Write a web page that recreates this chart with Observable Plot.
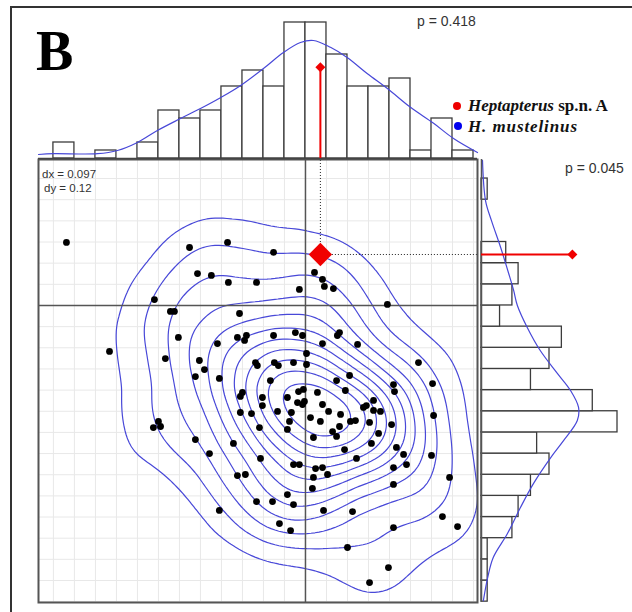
<!DOCTYPE html>
<html>
<head>
<meta charset="utf-8">
<script src="https://cdn.jsdelivr.net/npm/d3@7"></script>
<script src="https://cdn.jsdelivr.net/npm/@observablehq/plot@0.6"></script>
<style>
  body { margin: 0; background: #fff; }
  #chart { position: relative; width: 632px; height: 612px; overflow: hidden; background: #fff; }
  #chart > svg { position: absolute; left: 0; top: 0; }
</style>
</head>
<body>
<div id="chart"></div>
<script>
// Scores of H. mustelinus specimens, in grid units (dx = 0.097, dy = 0.12 per cell)
const scoreX = [
  -11.38, -5.52, -3.71, -1.52, -5.14, -4.48, -3.67, -2.33, -0.29, 0.43,
  0.81, 0.90, 1.33, -7.19, 3.90, -6.43, -6.24, -3.14, -6.05, -9.33,
  -4.19, -3.24, -2.81, -2.90, -1.52, -0.48, -0.14, 0.81, 1.52, 1.62,
  2.48, 0.05, -6.67, -5.05, -4.81, -5.24, -4.10, -2.38, -2.29, -1.48,
  -1.29, -0.57, 0.05, 5.38, -1.67, 1.48, 2.10, 6.05, -3.00, -3.10,
  -2.05, -0.86, -0.33, -0.10, 0.57, 1.90, 4.19, 4.24, -2.05, -0.38,
  -0.14, -0.05, 0.81, 3.24, 2.76, 2.90, -3.10, -2.57, -1.33, -0.67,
  1.10, 1.67, 3.24, 3.57, 6.10, 0.24, -0.76, 0.71, 2.14, 2.38,
  3.05, -7.00, -7.24, -6.90, -2.19, -0.86, 1.62, 4.10, 1.29, 1.48,
  0.38, 3.48, -5.24, -3.43, 3.14, 1.86, 4.33, -4.57, -2.14, 2.43,
  4.67, 6.00, -0.57, -0.29, 0.48, 0.81, 1.05, 0.38, 0.33, -3.24,
  -2.86, 4.81, 4.19, 4.19, 6.86, -0.86, -2.33, -1.57, -0.57, -4.10,
  0.86, 2.24, 6.52, 7.24, 4.19, -1.24, -0.71, 2.00, 3.95, 3.05
];
const scoreY = [
  2.98, 2.74, 2.98, 2.51, 1.51, 1.42, 1.09, 1.09, 0.76, 1.56,
  1.23, 0.90, 0.80, 0.28, 0.05, -0.28, -0.28, -0.38, -1.51, -2.17,
  -1.80, -1.51, -1.42, -1.65, -1.42, -1.28, -1.42, -1.80, -1.42, -1.28,
  -1.84, -2.27, -2.51, -2.60, -3.03, -3.36, -3.45, -2.70, -2.84, -2.70,
  -2.84, -2.70, -2.79, -2.70, -3.55, -3.55, -3.31, -3.69, -4.11, -4.30,
  -4.35, -4.35, -4.07, -3.97, -4.11, -4.02, -3.74, -4.07, -4.73, -4.59,
  -4.68, -4.54, -4.68, -4.49, -4.82, -4.73, -5.06, -5.11, -5.01, -5.06,
  -5.01, -5.15, -4.96, -5.01, -5.20, -5.30, -5.48, -5.48, -5.48, -5.44,
  -5.53, -5.48, -5.77, -5.72, -5.77, -5.86, -5.72, -5.63, -5.96, -6.19,
  -6.24, -6.05, -6.34, -6.52, -6.52, -6.81, -6.71, -7.00, -7.23, -7.23,
  -7.04, -7.09, -7.52, -7.52, -7.71, -7.66, -7.99, -8.13, -8.65, -8.04,
  -7.99, -7.52, -7.66, -8.46, -8.13, -8.94, -9.27, -9.27, -9.41, -9.69,
  -9.69, -9.74, -9.98, -10.45, -10.50, -10.31, -10.64, -11.44, -12.39, -13.10
];

// Heptapterus sp.n. A
const holotype = {x: 0.71, y: 2.41};
const holotypeTopLevel = 11.4;   // marker height in the x histogram
const holotypeRightLevel = 14.7; // marker length in the y histogram

// Marginal histogram of x (bin start, count)
const topBinStart = [-12, -11, -10, -9, -8, -7, -6, -5, -4, -3, -2, -1, 0, 1, 2, 3, 4, 5, 6, 7];
const topCounts   = [2, 0, 1, 0, 2, 6, 5, 6, 9, 11, 9, 17, 17, 13, 9, 9, 10, 1, 5, 1];

// Marginal histogram of y (bin start, count)
const rightBinStart = [-14, -13, -12, -11, -10, -9, -8, -7, -6, -5, -4, -3, -2, -1, 0, 1, 2, 3, 4, 5];
const rightCounts   = [1, 1, 1, 5, 6, 8, 11, 9, 22, 18, 8, 11, 13, 3, 5, 6, 4, 0, 0, 1];

// Smoothed density curves over the marginal histograms
const topCurveX = [-12.71, -12, -9.9, -8.95, -8, -7.05, -5.95, -5, -4.05, -3.1, -2, -1.05, -0.24, 0.38, 1.19, 2, 2.95, 3.9, 5, 6.1, 7.05, 8.19];
const topCurveY = [0.5, 0.6, 0.6, 1.0, 2.0, 3.5, 5.0, 6.25, 7.6, 9.1, 11.25, 13.25, 14.5, 14.75, 13.9, 12.6, 10.6, 8.75, 6.4, 4.4, 2.5, 0.75];
const rightCurveY = [6.86, 4.96, 4.02, 2.74, 1.51, 0.71, 0, -1.04, -2.13, -3.22, -4.02, -4.82, -5.44, -6.38, -7.19, -8.42, -9.55, -10.78, -11.91, -12.86, -13.95];
const rightCurveX = [0.16, 0.65, 1.6, 3.1, 4.4, 5.2, 5.8, 7.4, 9.5, 12.3, 14.4, 15.7, 15.5, 13.3, 11.2, 8.4, 6.3, 4.2, 1.9, 1.0, 0.3];

const xDomain = [-12.71, 8.19];
const yDomain = [-14.04, 6.9];

const points = scoreX.map((x, i) => ({x, y: scoreY[i]}));
const topBins = topBinStart.map((s, i) => ({x1: s, x2: s + 1, n: topCounts[i]})).filter(d => d.n > 0);
const rightBins = rightBinStart.map((s, i) => ({y1: s, y2: s + 1, n: rightCounts[i]})).filter(d => d.n > 0);
const topCurve = topCurveX.map((x, i) => ({x, y: topCurveY[i]}));
const rightCurve = rightCurveY.map((y, i) => ({y, x: rightCurveX[i]}));

const W = 632, H = 612;
const BLUE = "#4848d8";
const RED = "#f00000";
const BAR = "#3c3c3c";
const clear = {background: "transparent"};

// Scatter with density contours
const scatterPlot = Plot.plot({
  width: W, height: H,
  marginLeft: 38, marginRight: W - 477, marginTop: 159, marginBottom: H - 602,
  style: clear,
  x: {domain: xDomain, axis: null},
  y: {domain: yDomain, axis: null},
  marks: [
    Plot.ruleX(d3.range(-12, 9), {stroke: "#e8e8e8", strokeWidth: 1}),
    Plot.ruleY(d3.range(-14, 7), {stroke: "#e8e8e8", strokeWidth: 1}),
    Plot.density(points, {x: "x", y: "y", bandwidth: 31, thresholds: 12, stroke: BLUE, strokeWidth: 1.2, clip: true}),
    Plot.ruleX([0], {stroke: "#555", strokeWidth: 1.5}),
    Plot.ruleY([0], {stroke: "#555", strokeWidth: 1.5}),
    Plot.ruleX([holotype], {x: "x", y1: "y", y2: () => yDomain[1], stroke: "#222", strokeWidth: 1, strokeDasharray: "1,2"}),
    Plot.ruleY([holotype], {y: "y", x1: "x", x2: () => xDomain[1], stroke: "#222", strokeWidth: 1, strokeDasharray: "1,2"}),
    Plot.dot(points, {x: "x", y: "y", r: 3.4, fill: "#000"}),
    Plot.dot([holotype], {x: "x", y: "y", symbol: "diamond2", r: 10.5, fill: RED}),
    Plot.frame({stroke: "#555", strokeWidth: 2})
  ]
});

// Histogram of x above the scatter
const xHistPlot = Plot.plot({
  width: W, height: H,
  marginLeft: 38, marginRight: W - 477, marginTop: 22, marginBottom: H - 158,
  style: clear,
  x: {domain: xDomain, axis: null},
  y: {domain: [0, 17], axis: null},
  marks: [
    Plot.rect(topBins, {x1: "x1", x2: "x2", y1: () => 0, y2: "n", fill: "#fff", stroke: BAR, strokeWidth: 1.3}),
    Plot.line(topCurve, {x: "x", y: "y", curve: "catmull-rom", stroke: BLUE, strokeWidth: 1.2}),
    Plot.ruleY([0], {stroke: "#444", strokeWidth: 1.5}),
    Plot.ruleX([holotype], {x: "x", y1: () => 0, y2: () => holotypeTopLevel, stroke: RED, strokeWidth: 2}),
    Plot.dot([holotype], {x: "x", y: () => holotypeTopLevel, symbol: "diamond2", r: 4.5, fill: RED})
  ]
});

// Histogram of y to the right of the scatter
const yHistPlot = Plot.plot({
  width: W, height: H,
  marginLeft: 481, marginRight: W - 617, marginTop: 159, marginBottom: H - 602,
  style: clear,
  x: {domain: [0, 22], axis: null},
  y: {domain: yDomain, axis: null},
  marks: [
    Plot.rect(rightBins, {y1: "y1", y2: "y2", x1: () => 0, x2: "n", fill: "#fff", stroke: BAR, strokeWidth: 1.3}),
    Plot.line(rightCurve, {x: "x", y: "y", curve: "catmull-rom", stroke: BLUE, strokeWidth: 1.2}),
    Plot.ruleX([0], {stroke: "#555", strokeWidth: 1.5}),
    Plot.ruleY([holotype], {y: "y", x1: () => 0, x2: () => holotypeRightLevel, stroke: RED, strokeWidth: 2}),
    Plot.dot([holotype], {y: "y", x: () => holotypeRightLevel, symbol: "diamond2", r: 4.5, fill: RED})
  ]
});

// Panel letter, p-values, bandwidths and legend
const ann = d3.create("svg").attr("width", W).attr("height", H)
  .attr("font-family", "'Liberation Sans', Arial, sans-serif");
ann.append("path").attr("d", "M11,612V7H632").attr("fill", "none").attr("stroke", "#333").attr("stroke-width", 2);
ann.append("text").attr("x", 36).attr("y", 70).attr("font-family", "'Liberation Serif', 'Times New Roman', serif")
  .attr("font-weight", "bold").attr("font-size", 56).attr("fill", "#000").text("B");
ann.append("text").attr("x", 417).attr("y", 26).attr("font-size", 14).attr("fill", "#333").text("p = 0.418");
ann.append("text").attr("x", 565).attr("y", 173).attr("font-size", 14).attr("fill", "#333").text("p = 0.045");
ann.append("text").attr("x", 42).attr("y", 178).attr("font-size", 11.5).attr("fill", "#333").text("dx = 0.097");
ann.append("text").attr("x", 44).attr("y", 192).attr("font-size", 11.5).attr("fill", "#333").text("dy = 0.12");

const legend = ann.append("g").attr("font-family", "'Liberation Serif', 'Times New Roman', serif")
  .attr("font-weight", "bold").attr("font-size", 17).attr("fill", "#111");
legend.append("circle").attr("cx", 457).attr("cy", 106).attr("r", 4).attr("fill", "#ee0000");
const t1 = legend.append("text").attr("x", 468).attr("y", 111);
t1.append("tspan").attr("font-style", "italic").text("Heptapterus");
t1.append("tspan").text(" sp.n. A");
legend.append("circle").attr("cx", 458).attr("cy", 126).attr("r", 4).attr("fill", "#0000ee");
legend.append("text").attr("x", 468).attr("y", 132).attr("font-style", "italic").attr("letter-spacing", 0.9).text("H. mustelinus");

const chart = document.getElementById("chart");
chart.append(scatterPlot, xHistPlot, yHistPlot, ann.node());
</script>
</body>
</html>
